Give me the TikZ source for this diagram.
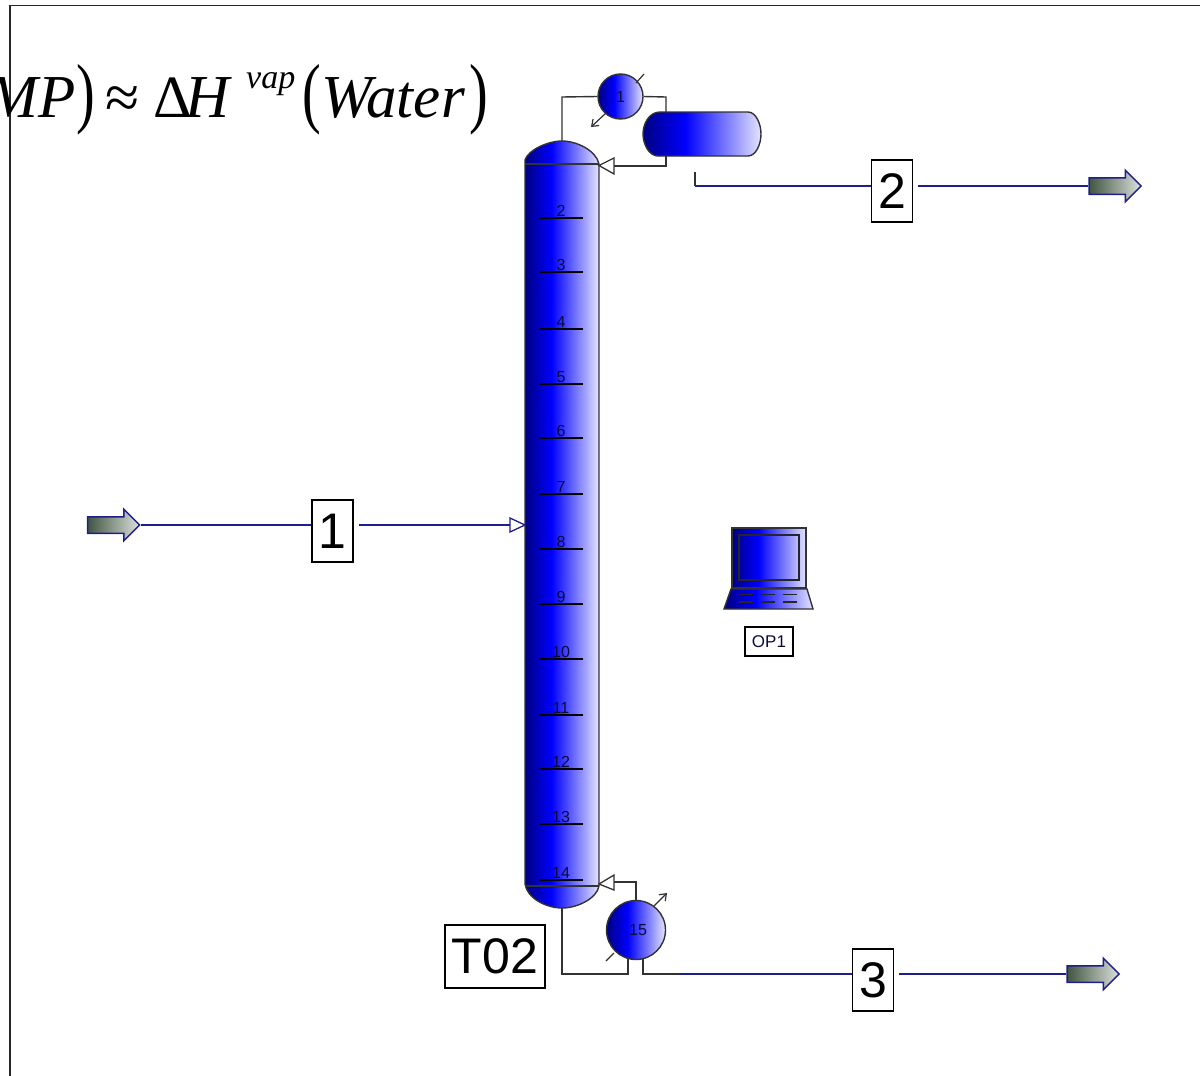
\documentclass[tikz,border=0pt]{standalone}
\usepackage{graphicx}
\usepackage{fontspec}
\setmainfont{Liberation Serif}
\setsansfont{Liberation Sans}
\usetikzlibrary{shapes.arrows,arrows.meta}
\definecolor{bluedark}{RGB}{0,0,130}
\definecolor{bluemid}{RGB}{0,0,255}
\definecolor{bluepale}{RGB}{228,228,255}
\definecolor{streamline}{RGB}{30,30,140}
\definecolor{pipeline}{RGB}{50,50,50}
\definecolor{labelink}{RGB}{10,10,60}
\definecolor{arrowdark}{RGB}{65,85,65}
\definecolor{arrowpale}{RGB}{220,225,220}
\pgfdeclarehorizontalshading{bluevessel}{100bp}{color(0bp)=(bluedark); color(25bp)=(bluedark); color(43bp)=(bluemid); color(75bp)=(bluepale); color(100bp)=(bluepale)}
\pgfdeclarehorizontalshading{streamgrad}{100bp}{color(0bp)=(arrowdark); color(25bp)=(arrowdark); color(75bp)=(arrowpale); color(100bp)=(arrowpale)}
\tikzset{
  vessel/.style={shade,shading=bluevessel,draw=pipeline,line width=1.4pt},
  exchanger/.style={vessel,circle,inner sep=0pt,font=\sffamily\fontsize{16}{16}\selectfont,text=labelink},
  pipe/.style={draw=pipeline,line width=1.4pt},
  stream/.style={draw=streamline,line width=1.2pt},
  tagbox/.style={draw=black,fill=white,line width=1.2pt,inner sep=0pt,font=\sffamily\fontsize{50}{50}\selectfont,text=black},
  streamend/.style={single arrow,shade,shading=streamgrad,draw=streamline,line width=1.5pt,inner xsep=0pt,inner ysep=7.5pt,
    minimum height=52pt,single arrow head extend=7.5pt,single arrow tip angle=90},
  stagelabel/.style={font=\sffamily\fontsize{16}{16}\selectfont,text=labelink,inner sep=0pt,anchor=base},
  openarrow/.style={fill=white,line width=1.3pt,line join=miter},
  formula/.style={inner sep=0pt,anchor=base west,text=black},
  barbline/.style={draw=pipeline,line width=1.2pt},
}
\newcommand{\bigparen}[1]{\scalebox{0.72}[1]{\fontsize{78}{78}\selectfont #1}}
\begin{document}
\begin{tikzpicture}[x=1pt,y=-1pt]
\useasboundingbox (0,0) rectangle (1200,1076);
\fill[white] (0,0) rectangle (1200,1076);
% frame
\draw[line width=1.2pt,draw=black!85] (10,1076) -- (10,5.5) -- (1200,5.5);
% formula
\node[formula,font=\fontsize{61}{61}\selectfont\itshape] (fMP) at (-13,117) {MP};
\node[formula] (fp1) at (76,118) {\bigparen{)}};
\node[formula,font=\fontsize{62}{62}\selectfont] (fapprox) at (105,118) {≈};
\node[formula,font=\fontsize{60}{60}\selectfont] (fDelta) at (153,117) {Δ};
\node[formula,font=\fontsize{61}{61}\selectfont\itshape] (fH) at (185,117) {H};
\node[formula,font=\fontsize{34}{34}\selectfont\itshape] (fvap) at (246,88) {vap};
\node[formula] (fp2) at (302,118) {\bigparen{(}};
\node[formula,font=\fontsize{61}{61}\selectfont\itshape] (fWater) at (321,117) {Water};
\node[formula] (fp3) at (469,118) {\bigparen{)}};
% column
\path[vessel] (525,160) .. controls (528,150) and (548,141) .. (562,141)
  .. controls (576,141) and (596,150) .. (599,164) -- (599,886)
  .. controls (597,898) and (578,908) .. (562,908)
  .. controls (546,908) and (527,898) .. (525,884) -- cycle;
\coordinate (colTop) at (562,141);
\coordinate (colBot) at (562,908);
\draw[pipe] (525,164) -- (599,164);
\draw[pipe] (525,886) -- (599,886);
% stages
\foreach \lab/\y in {2/218,3/272,4/329,5/384,6/438,7/494,8/549,9/604,10/659,11/715,12/769,13/824,14/880}{
  \draw[draw=black,line width=1.2pt] (540,\y) -- (583,\y);
  \node[stagelabel] (st\lab) at (561,\y-2) {\lab};
}
% condenser and drum
\node[exchanger,minimum size=45pt] (cond) at (620.5,96.5) {1};
\path[vessel] (660,112) -- (748,112) .. controls (756,112) and (761,124) .. (761,134)
  .. controls (761,144) and (756,156) .. (748,156) -- (658,156)
  .. controls (649,156) and (643,144) .. (643,134)
  .. controls (643,124) and (649,112) .. (660,112) -- cycle;
\coordinate (drumTop) at (666,112);
\coordinate (drumBot) at (666,156);
\coordinate (refluxIn) at (614,166);
\draw[pipe] (colTop) -- (562,97) -- (cond.west);
\draw[pipe] (cond.east) -- (666,97) -- (drumTop);
\draw[pipe] (drumBot) -- (666,166) -- (refluxIn);
\draw[openarrow,draw=pipeline] (599,165.5) -- (614,158) -- (614,174) -- cycle;
\draw[barbline] (636,83) -- (644,74);
\draw[barbline,-{Straight Barb[length=6pt,width=9pt]}] (606,113) -- (591,127);
% reboiler
\node[exchanger,minimum size=59pt] (reb) at (636,930) {\hspace*{4pt}15};
\coordinate (rebIn) at (628,959);
\coordinate (rebOut) at (643,959);
\coordinate (boilIn) at (614,882);
\draw[pipe] (colBot) -- (562,974) -- (628,974) -- (rebIn);
\draw[pipe] (reb.north) -- (636,882) -- (boilIn);
\draw[openarrow,draw=pipeline] (599,884) -- (614,875) -- (614,890) -- cycle;
\draw[barbline] (606,961) -- (614,953);
\draw[barbline,-{Straight Barb[length=6pt,width=9pt]}] (654,906) -- (667,893);
% tag T02
\node[tagbox,minimum width=100pt,minimum height=63pt] (t02) at (495,956.5) {T02};
% stream 1
\node[streamend] (s1in) at (109.5,525) {};
\node[tagbox,minimum width=41pt,minimum height=62pt] (box1) at (332.5,531) {1};
\coordinate (feedTip) at (510,525);
\draw[stream] (s1in.tip) -- (box1.west |- s1in.tip);
\draw[stream] ([xshift=5pt]box1.east |- s1in.tip) -- (feedTip);
\draw[openarrow,draw=streamline] (525,525) -- (510,518) -- (510,532) -- cycle;
% stream 2
\node[streamend] (s2out) at (1111,186) {};
\node[tagbox,minimum width=41pt,minimum height=62pt] (box2) at (892,191) {2};
\coordinate (dist) at (695,172);
\coordinate (distB) at (695,186);
\draw[pipe] (dist) -- (distB);
\draw[stream] (distB) -- (box2.west |- distB);
\draw[stream] ([xshift=5pt]box2.east |- distB) -- (s2out.tail);
% stream 3
\node[streamend] (s3out) at (1089,974) {};
\node[tagbox,minimum width=41pt,minimum height=62pt] (box3) at (873,980) {3};
\coordinate (botB) at (643,974);
\coordinate (botC) at (680,974);
\draw[pipe] (rebOut) -- (botB) -- (botC);
\draw[stream] (botC) -- (box3.west |- botC);
\draw[stream] ([xshift=5pt]box3.east |- botC) -- (s3out.tail);
% laptop
\path[vessel,draw=black!80] (732,528) rectangle (806,588);
\draw[draw=black!85,line width=1.4pt] (739,535) rectangle (799,580);
\path[vessel,draw=black!80] (731,589) -- (807,589) -- (813,609) -- (724,609) -- cycle;
\foreach \yy in {594.5,602}{
  \foreach \xx in {739,761,783}{
    \draw[draw=black!85,line width=1.2pt] (\xx,\yy) -- (\xx+14,\yy);
  }
}
\node[tagbox,minimum width=48pt,minimum height=29pt,font=\sffamily\fontsize{17}{17}\selectfont,text=labelink] (op1) at (769,641.5) {OP1};
\end{tikzpicture}
\end{document}
